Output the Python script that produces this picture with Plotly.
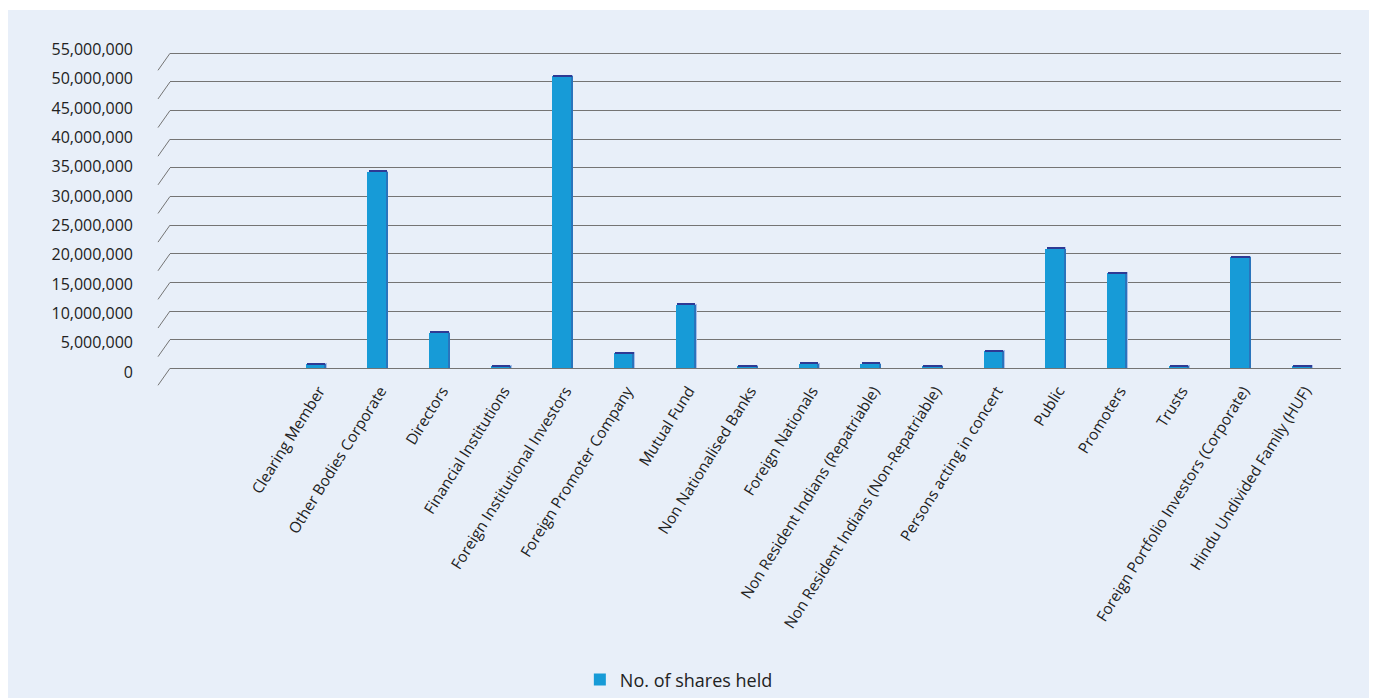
import plotly.graph_objects as go

categories = [
    "Clearing Member",
    "Other Bodies Corporate",
    "Directors",
    "Financial Institutions",
    "Foreign Institutional Investors",
    "Foreign Promoter Company",
    "Mutual Fund",
    "Non Nationalised Banks",
    "Foreign Nationals",
    "Non Resident Indians (Repatriable)",
    "Non Resident Indians (Non-Repatriable)",
    "Persons acting in concert",
    "Public",
    "Promoters",
    "Trusts",
    "Foreign Portfolio Investors (Corporate)",
    "Hindu Undivided Family (HUF)",
]
shares_held = [
    700_000, 34_300_000, 6_200_000, 400_000, 51_000_000, 2_600_000,
    11_100_000, 350_000, 800_000, 800_000, 350_000, 3_000_000,
    20_900_000, 16_600_000, 400_000, 19_400_000, 400_000,
]
y_ticks = list(range(0, 55_000_001, 5_000_000))
y_tick_text = [f"{v:,}" for v in y_ticks]
series_name = "No. of shares held"

FRONT = "#179BD7"
SIDE = "#2A74BC"
CAP = "#2E3A94"
FRINGE = "#A8BCE8"
GRID = "#747474"
PANEL = "#E8EFF9"
TEXT = "#222222"

W = 0.30            # bar width in category units
PX = 1 / 61.63      # one pixel in category units
MPX = 1e6 / 5.727   # one pixel in data units on the value axis

fig = go.Figure()

# light outline behind the bar body (top and right)
fig.add_trace(go.Bar(
    x=categories, y=[v + 1.2 * MPX for v in shares_held],
    width=W, offset=-W / 2 + 2.5 * PX,
    marker=dict(color=FRINGE, line=dict(width=0)),
    showlegend=False, hoverinfo="skip",
))
# shaded right-hand side
fig.add_trace(go.Bar(
    x=categories, y=shares_held,
    width=W, offset=-W / 2 + 2 * PX,
    marker=dict(color=SIDE, line=dict(width=0)),
    showlegend=False, hoverinfo="skip",
))
# front face
fig.add_trace(go.Bar(
    x=categories, y=shares_held, name=series_name,
    width=W, offset=-W / 2,
    marker=dict(color=FRONT, line=dict(width=0)),
))
# dark top cap
fig.add_trace(go.Bar(
    x=categories, y=[1.4 * MPX] * len(shares_held), base=shares_held,
    width=W, offset=-W / 2 + 1.2 * PX,
    marker=dict(color=CAP, line=dict(width=0)),
    showlegend=False, hoverinfo="skip",
))

shapes = [
    # background panel
    dict(type="rect", xref="paper", yref="paper",
         x0=-0.13834, x1=1.02391, y0=-0.90, y1=1.0857,
         fillcolor=PANEL, line=dict(width=0), layer="below"),
]
# slanted floor edges joining each gridline to the value axis
for v in y_ticks:
    shapes.append(dict(
        type="line", xref="paper", yref="y",
        x0=-12 / 1171, x1=0, y0=v - 17 * MPX, y1=v,
        line=dict(color=GRID, width=1), layer="below",
    ))

fig.update_layout(
    width=1375, height=698,
    margin=dict(l=170, r=34, t=40, b=308, autoexpand=False),
    paper_bgcolor="white",
    plot_bgcolor="rgba(0,0,0,0)",
    barmode="overlay",
    bargap=0,
    shapes=shapes,
    font=dict(family="Open Sans, Noto Sans, sans-serif", color=TEXT),
    xaxis=dict(
        type="category",
        categoryorder="array", categoryarray=categories,
        range=[-2.353, 16.648],
        showgrid=False, zeroline=False, showline=False, ticks="",
        tickangle=-58,
        tickfont=dict(size=15.3, color=TEXT),
        ticklabelstandoff=-12,
        ticklabelshift=4,
        automargin=False,
    ),
    yaxis=dict(
        range=[-3.789e6, 57.322e6],
        tickmode="array", tickvals=y_ticks,
        showticklabels=False, ticks="",
        showgrid=True, gridcolor=GRID, gridwidth=1,
        zeroline=False, showline=False,
        automargin=False,
    ),
    yaxis2=dict(
        overlaying="y", side="left", anchor="x",
        range=[-3.068e6, 56.585e6],
        tickmode="array", tickvals=y_ticks, ticktext=y_tick_text,
        tickfont=dict(size=16, color=TEXT),
        showgrid=False, zeroline=False, showline=False, ticks="",
        ticklabelstandoff=36,
        automargin=False,
    ),
    legend=dict(
        orientation="h",
        x=0.350, xanchor="left",
        y=-0.828, yanchor="middle",
        font=dict(size=18, color=TEXT),
        bgcolor="rgba(0,0,0,0)",
        itemwidth=30,
    ),
    showlegend=True,
)

# empty trace so the secondary value axis is laid out
fig.add_trace(go.Scatter(x=[], y=[], yaxis="y2", showlegend=False, hoverinfo="skip"))

fig.write_html("out.html")
